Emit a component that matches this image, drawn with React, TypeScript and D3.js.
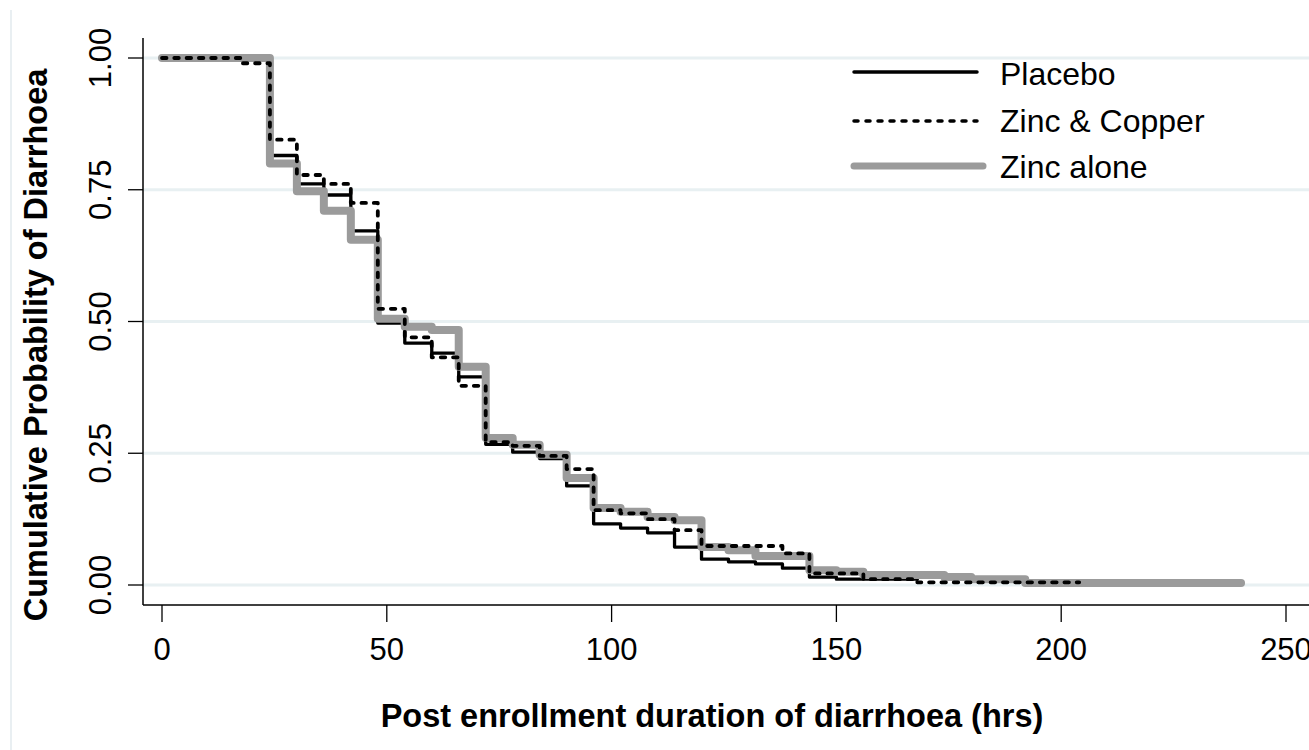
import React, { useEffect, useRef } from 'react';
import * as d3 from 'd3';

// Kaplan-Meier style step curves
const seriesNames = ['Placebo', 'Zinc & Copper', 'Zinc alone'];

const placeboTime = [0, 24, 30, 36, 42, 48, 54, 60, 66, 72, 78, 84, 90, 96, 102, 108, 114, 120, 126, 132, 138, 144, 150];
const placeboProb = [1, 0.815, 0.761, 0.74, 0.672, 0.497, 0.459, 0.44, 0.395, 0.267, 0.252, 0.24, 0.188, 0.116, 0.108, 0.099, 0.072, 0.049, 0.044, 0.04, 0.032, 0.015, 0.011];
const placeboEnd = 168;

const zincCopperTime = [0, 18, 24, 30, 36, 42, 48, 54, 60, 66, 72, 78, 84, 90, 96, 102, 108, 114, 120, 138, 144, 156, 168];
const zincCopperProb = [1, 0.99, 0.845, 0.778, 0.761, 0.725, 0.524, 0.47, 0.432, 0.378, 0.271, 0.264, 0.245, 0.22, 0.142, 0.136, 0.125, 0.104, 0.074, 0.06, 0.022, 0.011, 0.005];
const zincCopperEnd = 204;

const zincTime = [0, 24, 30, 36, 42, 48, 54, 60, 66, 72, 78, 84, 90, 96, 102, 108, 114, 120, 126, 132, 144, 150, 156, 174, 180, 192];
const zincProb = [1, 0.8, 0.747, 0.71, 0.655, 0.505, 0.49, 0.484, 0.414, 0.279, 0.266, 0.247, 0.203, 0.146, 0.139, 0.129, 0.123, 0.072, 0.066, 0.055, 0.028, 0.025, 0.019, 0.015, 0.011, 0.004];
const zincEnd = 240;

const xTicks = [0, 50, 100, 150, 200, 250];
const yTicks = [0, 0.25, 0.5, 0.75, 1];

const FONT = '"Liberation Sans", Arial, Helvetica, sans-serif';

const App = () => {
  const svgRef = useRef<SVGSVGElement>(null);

  useEffect(() => {
    const svg = d3.select(svgRef.current);
    svg.selectAll('*').remove();

    const W = 1309, H = 750;
    svg.attr('width', W).attr('height', H);

    const x = d3.scaleLinear().domain([0, 250]).range([162, 1286]);
    const y = d3.scaleLinear().domain([0, 1]).range([585, 58]);

    const axisX = 143, axisY = 605, axisTop = 38, right = 1309;

    svg.append('rect').attr('width', W).attr('height', H).attr('fill', '#ffffff');

    // faint outer border on the left
    svg.append('line')
      .attr('x1', 11).attr('x2', 11).attr('y1', 10).attr('y2', H)
      .attr('stroke', '#e9eff2').attr('stroke-width', 2);

    // grid
    svg.append('g').selectAll('line').data(yTicks).enter().append('line')
      .attr('x1', axisX).attr('x2', right)
      .attr('y1', d => y(d)).attr('y2', d => y(d))
      .attr('stroke', '#e8f0f2').attr('stroke-width', 3);

    // axes
    svg.append('line').attr('x1', axisX).attr('x2', axisX).attr('y1', axisTop).attr('y2', axisY)
      .attr('stroke', '#000').attr('stroke-width', 1.5);
    svg.append('line').attr('x1', axisX).attr('x2', right).attr('y1', axisY).attr('y2', axisY)
      .attr('stroke', '#000').attr('stroke-width', 1.5);

    svg.append('g').selectAll('line').data(yTicks).enter().append('line')
      .attr('x1', 128).attr('x2', axisX)
      .attr('y1', d => y(d)).attr('y2', d => y(d))
      .attr('stroke', '#000').attr('stroke-width', 1.3);

    svg.append('g').selectAll('line').data(xTicks).enter().append('line')
      .attr('x1', d => x(d)).attr('x2', d => x(d))
      .attr('y1', axisY).attr('y2', 622)
      .attr('stroke', '#000').attr('stroke-width', 1.3);

    // tick labels
    svg.append('g').selectAll('text').data(xTicks).enter().append('text')
      .attr('x', d => x(d)).attr('y', 660)
      .attr('text-anchor', 'middle')
      .attr('font-family', FONT).attr('font-size', 31)
      .text(d => String(d));

    svg.append('g').selectAll('text').data(yTicks).enter().append('text')
      .attr('transform', d => `translate(111,${y(d)}) rotate(-90)`)
      .attr('text-anchor', 'middle')
      .attr('font-family', FONT).attr('font-size', 31)
      .text(d => d3.format('.2f')(d));

    // axis titles
    svg.append('text')
      .attr('transform', 'translate(47,345) rotate(-90)')
      .attr('text-anchor', 'middle')
      .attr('font-family', FONT).attr('font-size', 32.5).attr('font-weight', 'bold')
      .text('Cumulative Probability of Diarrhoea');

    svg.append('text')
      .attr('x', 712).attr('y', 727)
      .attr('text-anchor', 'middle')
      .attr('font-family', FONT).attr('font-size', 32.5).attr('font-weight', 'bold')
      .text('Post enrollment duration of diarrhoea (hrs)');

    const line = d3.line<[number, number]>()
      .x(d => x(d[0])).y(d => y(d[1]))
      .curve(d3.curveStepAfter);

    const build = (t: number[], p: number[], end: number): [number, number][] => {
      const pts: [number, number][] = t.map((v, i) => [v, p[i]]);
      pts.push([end, p[p.length - 1]]);
      return pts;
    };

    // placebo underneath the grey band, dashed on top
    const styles = [
      { data: build(placeboTime, placeboProb, placeboEnd), stroke: '#000', width: 3.3, dash: null },
      { data: build(zincTime, zincProb, zincEnd), stroke: '#9b9b9b', width: 8, dash: null },
      { data: build(zincCopperTime, zincCopperProb, zincCopperEnd), stroke: '#000', width: 3.8, dash: '4.5,7.8' },
    ];

    styles.forEach(s => {
      const path = svg.append('path')
        .attr('d', line(s.data))
        .attr('fill', 'none')
        .attr('stroke', s.stroke)
        .attr('stroke-width', s.width)
        .attr('stroke-linecap', 'round')
        .attr('stroke-linejoin', 'round');
      if (s.dash) path.attr('stroke-dasharray', s.dash);
    });

    // legend
    const legendY = [72, 121, 166];
    const legendBase = [85, 132, 178];
    const legendStyle = [
      { stroke: '#000', width: 3.5, dash: null, x2: 977 },
      { stroke: '#000', width: 3.5, dash: '4,8', x2: 977 },
      { stroke: '#9b9b9b', width: 7, dash: null, x2: 983 },
    ];
    seriesNames.forEach((name, i) => {
      const st = legendStyle[i];
      const l = svg.append('line')
        .attr('x1', 854).attr('x2', st.x2)
        .attr('y1', legendY[i]).attr('y2', legendY[i])
        .attr('stroke', st.stroke).attr('stroke-width', st.width)
        .attr('stroke-linecap', 'round');
      if (st.dash) l.attr('stroke-dasharray', st.dash);
      svg.append('text')
        .attr('x', 1000).attr('y', legendBase[i])
        .attr('font-family', FONT).attr('font-size', 32)
        .text(name);
    });
  }, []);

  return (
    <svg ref={svgRef} style={{ position: 'fixed', left: 0, top: 0, display: 'block' }}></svg>
  );
};

export default App;
